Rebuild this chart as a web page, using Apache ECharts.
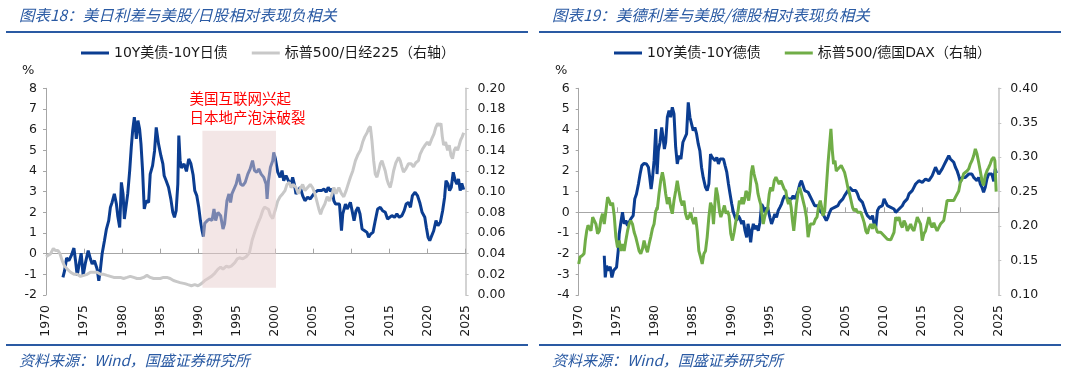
<!DOCTYPE html>
<html><head><meta charset="utf-8">
<script src="https://cdn.jsdelivr.net/npm/echarts@6/dist/echarts.min.js"></script>
<style>html,body{margin:0;padding:0;background:#fff}#c{width:1066px;height:371px}</style>
</head><body><div id="c"></div>
<script>
// ===== Data =====
const seriesNames = ['10Y美债-10Y日债', '标普500/日经225（右轴）', '10Y美债-10Y德债', '标普500/德国DAX（右轴）'];
const titles = ['图表18：美日利差与美股/日股相对表现负相关', '图表19：美德利差与美股/德股相对表现负相关'];
const sourceText = '资料来源：Wind，国盛证券研究所';
const bandLabel = '美国互联网兴起\n日本地产泡沫破裂';
const bandYears = [1990.5, 2000.15];
const bandValues = [-1.65, 5.95];

const jpSpread = [[1972.22,-1.15],[1972.44,-0.82],[1972.70,-0.21],[1973.00,-0.34],[1973.31,-0.10],[1973.66,0.27],[1973.87,-0.34],[1974.09,-1.06],[1974.31,-0.58],[1974.61,0.02],[1974.87,-1.06],[1975.18,-0.42],[1975.53,0.15],[1975.83,-0.26],[1976.05,-0.50],[1976.35,-0.34],[1976.70,-0.74],[1976.92,-1.31],[1977.14,-0.74],[1977.35,-0.02],[1977.66,0.63],[1977.92,1.19],[1978.22,1.60],[1978.44,2.24],[1978.66,2.48],[1978.96,2.89],[1979.23,2.40],[1979.40,1.84],[1979.66,1.27],[1979.88,3.45],[1980.10,2.89],[1980.27,1.68],[1980.40,1.60],[1980.71,2.89],[1980.97,4.02],[1981.18,5.15],[1981.36,5.95],[1981.58,6.60],[1981.84,5.55],[1982.05,6.44],[1982.27,6.03],[1982.45,5.31],[1982.66,4.02],[1982.88,2.16],[1983.14,2.56],[1983.45,2.48],[1983.66,3.85],[1983.97,4.26],[1984.23,4.98],[1984.45,6.11],[1984.75,5.31],[1985.06,4.74],[1985.32,4.34],[1985.49,3.77],[1985.75,3.53],[1986.06,3.21],[1986.36,2.65],[1986.62,2.00],[1986.84,1.76],[1987.06,2.08],[1987.28,3.37],[1987.41,5.71],[1987.58,4.50],[1987.75,4.15],[1988.10,4.34],[1988.41,3.98],[1988.71,4.58],[1988.98,4.37],[1989.28,3.82],[1989.50,3.05],[1989.76,2.81],[1990.02,2.24],[1990.24,1.60],[1990.46,1.11],[1990.63,0.82],[1990.81,1.47],[1991.15,1.60],[1991.45,1.68],[1991.76,1.60],[1992.02,2.16],[1992.24,1.60],[1992.54,2.00],[1992.89,1.84],[1993.20,1.19],[1993.41,1.44],[1993.72,2.56],[1993.98,2.89],[1994.19,2.48],[1994.37,2.89],[1994.63,2.81],[1994.93,3.37],[1995.24,3.85],[1995.50,3.37],[1995.80,3.29],[1996.11,3.45],[1996.45,3.85],[1996.76,4.10],[1997.07,4.50],[1997.33,4.02],[1997.63,3.94],[1997.89,4.10],[1998.20,3.85],[1998.55,3.69],[1998.85,3.37],[1998.98,2.65],[1999.16,3.53],[1999.42,4.18],[1999.72,4.50],[1999.85,4.90],[2000.07,4.58],[2000.38,3.94],[2000.68,3.69],[2000.94,4.02],[2001.16,3.53],[2001.46,3.77],[2001.77,3.53],[2002.12,3.37],[2002.33,3.69],[2002.55,3.37],[2002.77,2.89],[2003.07,3.05],[2003.33,3.21],[2003.64,2.81],[2003.94,2.56],[2004.29,2.73],[2004.64,2.65],[2004.94,2.81],[2005.25,2.97],[2005.60,3.05],[2005.77,2.97],[2006.12,3.05],[2006.43,3.13],[2006.73,2.97],[2006.99,3.21],[2007.29,3.02],[2007.51,3.13],[2007.73,2.56],[2007.95,2.40],[2008.16,2.48],[2008.47,2.40],[2008.73,1.11],[2008.90,1.92],[2009.25,2.40],[2009.47,2.16],[2009.69,2.32],[2009.90,2.48],[2010.12,2.08],[2010.38,1.60],[2010.64,2.08],[2010.90,2.24],[2011.16,1.92],[2011.43,1.19],[2011.77,1.11],[2012.08,1.03],[2012.29,0.79],[2012.56,0.95],[2012.86,1.03],[2013.16,1.60],[2013.47,2.16],[2013.82,2.24],[2014.12,2.08],[2014.47,2.00],[2014.77,1.68],[2015.03,1.60],[2015.34,1.84],[2015.69,1.76],[2015.99,1.92],[2016.30,1.76],[2016.65,1.84],[2016.95,2.08],[2017.21,2.40],[2017.51,2.48],[2017.77,2.24],[2018.03,2.81],[2018.38,2.97],[2018.69,2.81],[2018.99,2.48],[2019.30,2.00],[2019.65,1.76],[2019.86,1.27],[2020.08,0.79],[2020.30,0.63],[2020.51,0.71],[2020.82,1.11],[2021.12,1.60],[2021.38,1.35],[2021.69,1.52],[2021.99,2.08],[2022.25,2.73],[2022.43,3.53],[2022.69,3.37],[2022.90,3.05],[2023.12,3.21],[2023.38,3.94],[2023.64,3.53],[2023.86,3.37],[2024.07,3.61],[2024.29,3.05],[2024.50,3.40],[2024.75,3.10]];

const spxNikkei = [[1970.00,0.037],[1970.26,0.038],[1970.61,0.040],[1970.96,0.045],[1971.26,0.043],[1971.57,0.043],[1971.83,0.040],[1972.13,0.033],[1972.44,0.028],[1972.79,0.025],[1973.22,0.022],[1973.66,0.020],[1974.09,0.020],[1974.53,0.018],[1974.96,0.019],[1975.40,0.020],[1975.83,0.022],[1976.27,0.022],[1976.70,0.022],[1977.14,0.020],[1977.57,0.020],[1978.00,0.019],[1978.44,0.018],[1978.88,0.017],[1979.31,0.017],[1979.75,0.017],[1980.18,0.016],[1980.62,0.017],[1981.05,0.018],[1981.49,0.017],[1981.92,0.016],[1982.36,0.016],[1982.79,0.017],[1983.23,0.019],[1983.66,0.017],[1984.10,0.016],[1984.53,0.016],[1984.97,0.016],[1985.40,0.017],[1985.84,0.017],[1986.27,0.016],[1986.71,0.014],[1987.15,0.013],[1987.58,0.012],[1987.75,0.011],[1988.19,0.011],[1988.62,0.010],[1989.06,0.009],[1989.50,0.010],[1989.93,0.009],[1990.37,0.011],[1990.81,0.014],[1991.24,0.016],[1991.68,0.018],[1992.11,0.021],[1992.55,0.025],[1992.89,0.027],[1993.20,0.025],[1993.64,0.028],[1993.94,0.027],[1994.28,0.028],[1994.72,0.031],[1995.07,0.035],[1995.37,0.036],[1995.80,0.035],[1996.24,0.037],[1996.67,0.041],[1997.02,0.053],[1997.41,0.062],[1997.76,0.069],[1998.11,0.075],[1998.42,0.082],[1998.63,0.085],[1998.89,0.086],[1999.16,0.083],[1999.42,0.077],[1999.72,0.074],[1999.94,0.075],[2000.16,0.085],[2000.38,0.091],[2000.68,0.095],[2001.03,0.098],[2001.33,0.101],[2001.59,0.107],[2001.90,0.109],[2002.12,0.104],[2002.42,0.107],[2002.77,0.104],[2003.07,0.098],[2003.33,0.103],[2003.64,0.107],[2003.94,0.101],[2004.29,0.104],[2004.64,0.107],[2004.94,0.104],[2005.25,0.098],[2005.60,0.088],[2005.77,0.083],[2005.99,0.078],[2006.20,0.083],[2006.55,0.088],[2006.86,0.095],[2007.16,0.091],[2007.51,0.098],[2007.73,0.104],[2008.03,0.098],[2008.38,0.104],[2008.73,0.098],[2009.03,0.095],[2009.34,0.101],[2009.60,0.107],[2009.90,0.114],[2010.21,0.120],[2010.56,0.130],[2010.90,0.136],[2011.21,0.140],[2011.51,0.148],[2011.77,0.153],[2012.08,0.157],[2012.29,0.161],[2012.51,0.163],[2012.73,0.149],[2012.95,0.130],[2013.16,0.117],[2013.38,0.114],[2013.60,0.120],[2013.82,0.127],[2014.04,0.130],[2014.25,0.125],[2014.47,0.120],[2014.69,0.112],[2014.91,0.107],[2015.12,0.104],[2015.34,0.111],[2015.56,0.120],[2015.86,0.128],[2016.21,0.133],[2016.43,0.130],[2016.65,0.124],[2016.86,0.119],[2017.17,0.122],[2017.51,0.127],[2017.86,0.127],[2018.17,0.124],[2018.47,0.128],[2018.82,0.130],[2019.03,0.136],[2019.34,0.141],[2019.69,0.145],[2019.99,0.148],[2020.25,0.145],[2020.56,0.151],[2020.86,0.156],[2021.08,0.162],[2021.34,0.166],[2021.56,0.164],[2021.77,0.166],[2021.95,0.153],[2022.12,0.145],[2022.38,0.148],[2022.64,0.140],[2022.86,0.145],[2023.08,0.135],[2023.29,0.132],[2023.51,0.140],[2023.73,0.143],[2023.95,0.140],[2024.16,0.145],[2024.35,0.150],[2024.55,0.153],[2024.75,0.157]];

const deSpread = [[1973.35,-2.10],[1973.48,-3.15],[1973.66,-2.58],[1973.87,-2.82],[1974.13,-2.63],[1974.35,-3.15],[1974.57,-2.82],[1974.79,-2.74],[1974.96,-2.66],[1975.18,-1.85],[1975.31,-1.05],[1975.53,-0.48],[1975.74,0.00],[1975.96,-0.56],[1976.18,-0.40],[1976.40,-0.65],[1976.61,-0.48],[1976.83,-0.32],[1977.14,-0.16],[1977.35,0.65],[1977.57,0.89],[1977.83,1.37],[1978.05,1.85],[1978.27,2.26],[1978.57,2.37],[1978.88,2.34],[1979.14,2.18],[1979.31,1.69],[1979.49,1.13],[1979.66,1.61],[1979.88,2.50],[1980.10,4.03],[1980.27,1.85],[1980.44,2.98],[1980.66,3.39],[1980.88,4.11],[1981.05,3.63],[1981.23,3.06],[1981.40,3.39],[1981.62,4.60],[1981.84,4.92],[1982.05,4.60],[1982.27,5.08],[1982.49,4.76],[1982.71,3.15],[1982.92,2.34],[1983.14,2.74],[1983.40,2.58],[1983.66,3.39],[1983.92,3.31],[1984.14,3.79],[1984.36,5.32],[1984.58,4.60],[1984.80,4.27],[1985.01,3.95],[1985.23,4.11],[1985.45,3.79],[1985.67,3.31],[1985.88,2.98],[1986.10,2.18],[1986.32,1.69],[1986.62,1.21],[1986.84,1.05],[1987.06,1.37],[1987.28,2.82],[1987.49,2.66],[1987.67,2.74],[1987.89,2.50],[1988.10,2.66],[1988.32,2.34],[1988.54,2.58],[1988.76,2.50],[1988.98,2.58],[1989.19,2.26],[1989.41,1.94],[1989.63,1.37],[1989.84,0.89],[1990.06,0.40],[1990.28,0.00],[1990.50,-0.24],[1990.71,-0.40],[1990.93,-0.16],[1991.15,-0.32],[1991.37,-0.56],[1991.58,-0.40],[1991.80,-0.89],[1992.02,-1.21],[1992.19,-0.56],[1992.37,-0.89],[1992.54,-1.45],[1992.71,-0.89],[1992.89,-0.56],[1993.11,-0.81],[1993.33,-0.65],[1993.54,-0.89],[1993.76,-0.48],[1993.98,0.40],[1994.19,0.24],[1994.41,0.00],[1994.63,0.24],[1994.85,0.08],[1995.06,-0.24],[1995.28,-0.56],[1995.50,-0.32],[1995.71,-0.08],[1995.93,-0.24],[1996.15,0.08],[1996.37,0.24],[1996.58,0.40],[1996.80,0.65],[1997.02,0.81],[1997.24,0.89],[1997.45,0.65],[1997.67,0.73],[1997.89,0.65],[1998.11,0.81],[1998.32,0.65],[1998.54,0.81],[1998.76,1.05],[1998.98,1.37],[1999.19,1.53],[1999.41,1.29],[1999.63,1.05],[1999.85,1.13],[2000.07,0.97],[2000.28,1.05],[2000.50,0.65],[2000.72,0.56],[2000.93,0.32],[2001.15,0.24],[2001.37,0.32],[2001.58,0.08],[2001.80,0.16],[2002.02,-0.08],[2002.24,-0.16],[2002.46,-0.40],[2002.67,-0.24],[2002.89,0.00],[2003.11,0.16],[2003.32,0.08],[2003.54,0.24],[2003.76,0.16],[2003.98,0.32],[2004.19,0.48],[2004.41,0.56],[2004.63,0.65],[2004.85,0.81],[2005.06,0.89],[2005.28,1.05],[2005.50,1.21],[2005.68,1.13],[2005.90,1.05],[2006.11,1.13],[2006.33,1.05],[2006.55,0.89],[2006.77,0.65],[2006.98,0.56],[2007.20,0.48],[2007.42,0.24],[2007.64,0.00],[2007.85,-0.16],[2008.07,-0.24],[2008.29,-0.32],[2008.51,-0.16],[2008.72,-0.56],[2008.94,-0.73],[2009.16,0.08],[2009.38,0.24],[2009.59,0.16],[2009.81,0.32],[2010.03,0.65],[2010.25,0.48],[2010.46,0.32],[2010.68,0.40],[2010.90,0.24],[2011.12,0.32],[2011.33,0.16],[2011.55,0.00],[2011.77,-0.08],[2011.99,0.16],[2012.20,0.24],[2012.42,0.32],[2012.64,0.48],[2012.86,0.56],[2013.07,0.65],[2013.29,0.89],[2013.51,0.97],[2013.72,1.05],[2013.94,1.21],[2014.16,1.37],[2014.38,1.45],[2014.59,1.53],[2014.81,1.61],[2015.03,1.45],[2015.25,1.53],[2015.46,1.61],[2015.68,1.61],[2015.90,1.53],[2016.12,1.61],[2016.33,1.77],[2016.55,1.85],[2016.77,2.18],[2016.98,2.10],[2017.20,1.85],[2017.42,1.94],[2017.64,2.10],[2017.85,2.26],[2018.07,2.42],[2018.29,2.58],[2018.51,2.74],[2018.72,2.58],[2018.94,2.50],[2019.16,2.42],[2019.38,2.18],[2019.59,2.02],[2019.81,1.77],[2020.03,1.45],[2020.25,1.69],[2020.46,1.77],[2020.68,1.69],[2020.90,1.77],[2021.12,1.85],[2021.33,1.77],[2021.55,1.85],[2021.77,1.69],[2021.99,1.69],[2022.20,1.53],[2022.42,1.69],[2022.64,1.37],[2022.86,1.21],[2023.07,0.97],[2023.29,1.21],[2023.51,1.61],[2023.73,1.85],[2023.94,1.94],[2024.16,1.85],[2024.40,1.50],[2024.60,2.10],[2024.75,1.90]];

const spxDax = [[1970.00,0.145],[1970.17,0.155],[1970.44,0.157],[1970.70,0.160],[1970.87,0.179],[1971.05,0.193],[1971.22,0.201],[1971.39,0.198],[1971.61,0.193],[1971.83,0.213],[1972.05,0.215],[1972.26,0.203],[1972.48,0.189],[1972.70,0.193],[1972.92,0.210],[1973.13,0.218],[1973.35,0.203],[1973.57,0.222],[1973.79,0.242],[1974.00,0.237],[1974.22,0.230],[1974.44,0.234],[1974.66,0.215],[1974.87,0.184],[1975.09,0.169],[1975.31,0.179],[1975.53,0.164],[1975.74,0.174],[1975.96,0.164],[1976.18,0.179],[1976.40,0.193],[1976.61,0.203],[1976.83,0.208],[1977.05,0.203],[1977.27,0.191],[1977.48,0.184],[1977.70,0.174],[1977.92,0.164],[1978.14,0.160],[1978.36,0.167],[1978.57,0.179],[1978.79,0.169],[1979.01,0.162],[1979.23,0.174],[1979.44,0.184],[1979.66,0.196],[1979.88,0.203],[1980.10,0.222],[1980.31,0.225],[1980.53,0.247],[1980.75,0.266],[1980.97,0.278],[1981.18,0.266],[1981.40,0.247],[1981.62,0.232],[1981.84,0.242],[1982.05,0.227],[1982.27,0.218],[1982.49,0.237],[1982.71,0.251],[1982.92,0.266],[1983.14,0.251],[1983.36,0.237],[1983.58,0.230],[1983.79,0.237],[1984.01,0.218],[1984.23,0.210],[1984.45,0.213],[1984.67,0.220],[1984.88,0.210],[1985.10,0.203],[1985.32,0.213],[1985.54,0.193],[1985.75,0.164],[1985.97,0.155],[1986.19,0.145],[1986.41,0.160],[1986.62,0.164],[1986.84,0.184],[1987.06,0.213],[1987.28,0.234],[1987.49,0.227],[1987.67,0.203],[1987.89,0.239],[1988.02,0.256],[1988.23,0.244],[1988.45,0.222],[1988.63,0.213],[1988.89,0.222],[1989.10,0.230],[1989.32,0.218],[1989.50,0.222],[1989.71,0.215],[1989.93,0.189],[1990.15,0.179],[1990.37,0.191],[1990.54,0.203],[1990.71,0.213],[1990.89,0.222],[1991.06,0.237],[1991.24,0.232],[1991.41,0.242],[1991.58,0.232],[1991.76,0.239],[1991.93,0.251],[1992.11,0.247],[1992.28,0.237],[1992.45,0.251],[1992.63,0.278],[1992.80,0.288],[1992.98,0.276],[1993.15,0.268],[1993.33,0.261],[1993.50,0.247],[1993.67,0.239],[1993.85,0.232],[1994.02,0.218],[1994.19,0.203],[1994.37,0.213],[1994.54,0.220],[1994.76,0.225],[1994.98,0.247],[1995.15,0.256],[1995.41,0.251],[1995.63,0.266],[1995.85,0.271],[1996.06,0.266],[1996.28,0.261],[1996.50,0.266],[1996.72,0.264],[1996.93,0.254],[1997.15,0.251],[1997.32,0.239],[1997.50,0.232],[1997.67,0.239],[1997.85,0.227],[1998.02,0.208],[1998.19,0.193],[1998.37,0.213],[1998.54,0.232],[1998.76,0.249],[1998.98,0.256],[1999.19,0.247],[1999.41,0.237],[1999.63,0.227],[1999.85,0.213],[2000.07,0.184],[2000.20,0.186],[2000.37,0.203],[2000.59,0.205],[2000.80,0.203],[2001.02,0.210],[2001.24,0.213],[2001.46,0.230],[2001.67,0.237],[2001.85,0.227],[2002.02,0.215],[2002.24,0.222],[2002.46,0.256],[2002.67,0.290],[2002.89,0.319],[2003.06,0.341],[2003.24,0.310],[2003.41,0.290],[2003.59,0.295],[2003.76,0.280],[2003.98,0.283],[2004.20,0.285],[2004.41,0.288],[2004.63,0.283],[2004.85,0.278],[2005.06,0.268],[2005.28,0.256],[2005.50,0.247],[2005.68,0.247],[2005.90,0.227],[2006.11,0.222],[2006.33,0.225],[2006.55,0.220],[2006.77,0.218],[2006.98,0.220],[2007.20,0.213],[2007.42,0.205],[2007.64,0.193],[2007.85,0.189],[2008.07,0.198],[2008.29,0.203],[2008.51,0.196],[2008.72,0.203],[2008.94,0.198],[2009.16,0.191],[2009.38,0.193],[2009.59,0.191],[2009.81,0.193],[2010.03,0.186],[2010.25,0.184],[2010.46,0.181],[2010.68,0.179],[2010.90,0.180],[2011.12,0.179],[2011.33,0.191],[2011.55,0.213],[2011.77,0.208],[2011.99,0.213],[2012.20,0.203],[2012.42,0.198],[2012.64,0.208],[2012.86,0.203],[2013.07,0.193],[2013.29,0.198],[2013.51,0.203],[2013.72,0.196],[2013.94,0.193],[2014.16,0.203],[2014.38,0.213],[2014.59,0.215],[2014.81,0.203],[2015.03,0.179],[2015.25,0.189],[2015.46,0.193],[2015.68,0.203],[2015.90,0.213],[2016.12,0.203],[2016.33,0.198],[2016.55,0.205],[2016.77,0.198],[2016.98,0.193],[2017.20,0.193],[2017.42,0.203],[2017.64,0.201],[2017.85,0.208],[2018.07,0.222],[2018.29,0.237],[2018.51,0.239],[2018.72,0.237],[2018.94,0.239],[2019.16,0.237],[2019.38,0.242],[2019.59,0.244],[2019.81,0.251],[2020.03,0.264],[2020.25,0.268],[2020.46,0.276],[2020.68,0.278],[2020.90,0.280],[2021.12,0.283],[2021.33,0.290],[2021.55,0.295],[2021.77,0.302],[2021.99,0.312],[2022.20,0.305],[2022.42,0.293],[2022.64,0.280],[2022.86,0.266],[2023.07,0.259],[2023.29,0.273],[2023.51,0.280],[2023.73,0.285],[2023.94,0.290],[2024.16,0.297],[2024.40,0.300],[2024.55,0.295],[2024.72,0.250]];

// Axis ranges
const xRange = [1970, 2025, 5];
const leftAxes = { l: [-2, 8, 1], r: [0, 0.20, 0.02] };
const rightAxes = { l: [-4, 6, 1], r: [0.10, 0.40, 0.05] };

// ===== Styling =====
const FONT = "'DejaVu Sans','Noto Sans CJK SC',sans-serif";
const CJK = "'Noto Sans CJK SC','DejaVu Sans',sans-serif";
const BLUE = '#0b3d91', GREY = '#c8c8c8', GREEN = '#70ad47';
const AX = '#a6a6a6', AXR = '#c4c4c4', TITLE = '#2a5aa3';
const GRID_W = 419.6, GRID_H = 206.7, GRID_TOP = 88.3;
const GRID_LEFTS = [46, 578.7];
const LW = 3;

function xAxes(gi, yIdx) {
  return [
    { type: 'value', gridIndex: gi, min: xRange[0], max: xRange[1], interval: xRange[2],
      axisLine: { show: true, onZero: true, onZeroAxisIndex: yIdx, lineStyle: { color: AX, width: 1 } },
      axisTick: { show: true, inside: true, length: 5, lineStyle: { color: AX } },
      axisLabel: { show: false }, splitLine: { show: false } },
    { type: 'value', gridIndex: gi, min: xRange[0], max: xRange[1], interval: xRange[2], position: 'bottom',
      axisLine: { show: false, onZero: false }, axisTick: { show: false }, splitLine: { show: false },
      axisLabel: { rotate: 90, margin: 10, fontSize: 12.5, color: '#1a1a1a', fontFamily: FONT, formatter: v => String(v) } }
  ];
}
function yAxes(gi, ax) {
  return [
    { type: 'value', gridIndex: gi, position: 'left', min: ax.l[0], max: ax.l[1], interval: ax.l[2],
      axisLine: { show: true, onZero: false, lineStyle: { color: AX, width: 1 } },
      axisTick: { show: true, length: 3, lineStyle: { color: AX } },
      axisLabel: { margin: 9, fontSize: 12.5, color: '#1a1a1a', fontFamily: FONT, formatter: v => String(Math.round(v)) },
      splitLine: { show: false } },
    { type: 'value', gridIndex: gi, position: 'right', min: ax.r[0], max: ax.r[1], interval: ax.r[2],
      axisLine: { show: true, onZero: false, lineStyle: { color: AXR, width: 1.5 } },
      axisTick: { show: true, length: 3, lineStyle: { color: AXR } },
      axisLabel: { margin: 12, fontSize: 12.5, color: '#1a1a1a', fontFamily: FONT, formatter: v => v.toFixed(2) },
      splitLine: { show: false } }
  ];
}
function line(name, data, xi, yi, color, z) {
  return { type: 'line', name, data, xAxisIndex: xi, yAxisIndex: yi, symbol: 'none', showSymbol: false,
    lineStyle: { color, width: LW }, itemStyle: { color }, z, animation: false };
}
function legend(left, names) {
  return { left, top: 46, padding: 0, itemGap: 24, itemWidth: 28, itemHeight: 3, icon: 'rect',
    data: names, textStyle: { fontSize: 14, fontFamily: FONT, color: '#1a1a1a' } };
}
function header(x0, title) {
  return [
    { type: 'text', x: x0 + 13, y: 15, style: { text: title, fontSize: 15.5, fontStyle: 'italic', fontFamily: CJK, fill: TITLE, verticalAlign: 'middle' } },
    { type: 'line', shape: { x1: x0, y1: 32, x2: x0 + 522, y2: 32 }, style: { stroke: TITLE, lineWidth: 2 } },
    { type: 'text', x: x0 + 16, y: 71, style: { text: '%', fontSize: 13, fontFamily: FONT, fill: '#1a1a1a', verticalAlign: 'middle' } },
    { type: 'line', shape: { x1: x0, y1: 345, x2: x0 + 522, y2: 345 }, style: { stroke: TITLE, lineWidth: 2 } },
    { type: 'text', x: x0 + 13, y: 360.5, style: { text: sourceText, fontSize: 15, fontStyle: 'italic', fontFamily: CJK, fill: TITLE, verticalAlign: 'middle' } }
  ];
}

// Shaded period drawn on top of the lines (semi-transparent), positioned through the axes
function bandRender(params, api) {
  const p0 = api.coord([api.value(0), api.value(1)]);
  const p1 = api.coord([api.value(2), api.value(3)]);
  return {
    type: 'group',
    children: [
      { type: 'rect', shape: { x: p0[0], y: p1[1], width: p1[0] - p0[0], height: p0[1] - p1[1] },
        style: { fill: 'rgba(232,206,206,0.5)' } },
      { type: 'text', x: p0[0] - 13, y: p1[1] - 4,
        style: { text: bandLabel, fill: '#ff0000', fontSize: 14.5, lineHeight: 19, fontFamily: CJK,
          align: 'left', verticalAlign: 'bottom' } }
    ]
  };
}

const chart = echarts.init(document.getElementById('c'), null, { renderer: 'canvas' });
chart.setOption({
  animation: false,
  backgroundColor: '#fff',
  grid: GRID_LEFTS.map(l => ({ left: l, top: GRID_TOP, width: GRID_W, height: GRID_H, outerBoundsMode: 'none', containLabel: false })),
  xAxis: [...xAxes(0, 0), ...xAxes(1, 2)],
  yAxis: [...yAxes(0, leftAxes), ...yAxes(1, rightAxes)],
  legend: [legend(81, [seriesNames[0], seriesNames[1]]), legend(614, [seriesNames[2], seriesNames[3]])],
  series: [
    line(seriesNames[0], jpSpread, 0, 0, BLUE, 3),
    line(seriesNames[1], spxNikkei, 0, 1, GREY, 4),
    { type: 'custom', name: 'band', xAxisIndex: 0, yAxisIndex: 0, z: 10, silent: true, clip: false,
      encode: { x: [0, 2], y: [1, 3] },
      data: [[bandYears[0], bandValues[0], bandYears[1], bandValues[1]]],
      renderItem: bandRender },
    line(seriesNames[2], deSpread, 2, 2, BLUE, 3),
    line(seriesNames[3], spxDax, 2, 3, GREEN, 4)
  ],
  graphic: [...header(6, titles[0]), ...header(539, titles[1])]
});
</script></body></html>
